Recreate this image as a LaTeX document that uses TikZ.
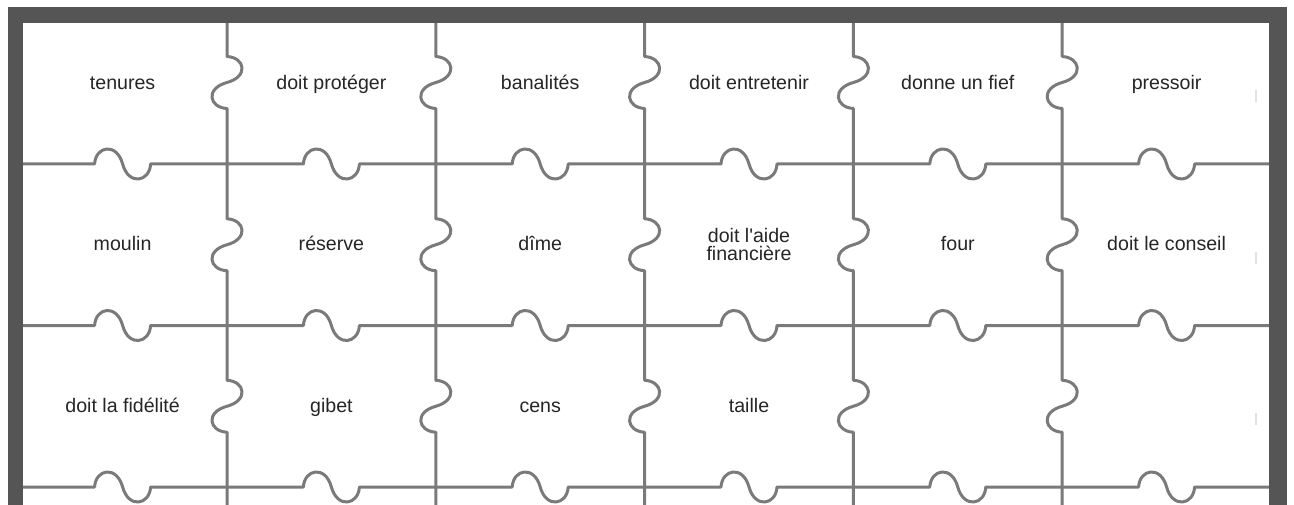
\documentclass[tikz,border=0pt]{standalone}
\usepackage{fontspec}
\newfontfamily\lsans{Liberation Sans}
\definecolor{framegray}{HTML}{555555}
\definecolor{piecegray}{HTML}{7A7A7A}
\definecolor{txtgray}{HTML}{262626}
\definecolor{faintgray}{HTML}{E2E2E2}
\begin{document}
\begin{tikzpicture}[x=1pt,y=-1pt,
  pz/.style={draw=piecegray,line width=3pt,line join=round,line cap=round},
  lbl/.style={text=txtgray,font=\lsans\fontsize{19.6}{18.8}\selectfont,inner sep=0pt,anchor=base,align=center},
  lbl2/.style={text=txtgray,font=\lsans\fontsize{19.6}{18.8}\selectfont,inner sep=0pt,anchor=center,align=center},
  faint/.style={draw=faintgray,line width=1.5pt}]
\useasboundingbox (0,0) rectangle (1294,505);
\fill[white] (0,0) rectangle (1294,505);
% horizontal piece edges
\foreach \Y in {164,325.5,487}{
  \draw[pz] (23,\Y)
    \foreach \c in {122.6,331.4,540.2,749,957.8,1166.6}{
      -- ({\c-28},\Y) .. controls ({\c-27},{\Y-18}) and ({\c-6},{\Y-22}) .. (\c,\Y)
      .. controls ({\c+6},{\Y+22}) and ({\c+27},{\Y+18}) .. ({\c+28},\Y)
    } -- (1269,\Y);
}
% vertical piece edges
\foreach \X in {227,435.8,644.6,853.4,1062.2}{
  \draw[pz] (\X,23)
    \foreach \c in {82.5,244.75,406.25}{
      -- (\X,{\c-26}) .. controls ({\X+18},{\c-25}) and ({\X+22},{\c-6}) .. (\X,\c)
      .. controls ({\X-22},{\c+6}) and ({\X-18},{\c+25}) .. (\X,{\c+26})
    } -- (\X,505);
}
% faint marks
\draw[faint] (1256,90) -- (1256,102);
\draw[faint] (1256,252) -- (1256,264);
\draw[faint] (1256,413) -- (1256,425);
% frame
\fill[framegray] (8,7) rectangle (1287,23);
\fill[framegray] (8,7) rectangle (23,505);
\fill[framegray] (1269,7) rectangle (1287,505);
% labels row 1
\node[lbl] (t11) at (122.6,89.5) {tenures};
\node[lbl] (t12) at (331.4,89.5) {doit protéger};
\node[lbl] (t13) at (540.2,89.5) {banalités};
\node[lbl] (t14) at (749,89.5) {doit entretenir};
\node[lbl] (t15) at (957.8,89.5) {donne un fief};
\node[lbl] (t16) at (1166.6,89.5) {pressoir};
% labels row 2
\node[lbl] (t21) at (122.6,251) {moulin};
\node[lbl] (t22) at (331.4,251) {réserve};
\node[lbl] (t23) at (540.2,251) {dîme};
\node[lbl2] (t24) at (749,244.5) {doit l'aide\\financière};
\node[lbl] (t25) at (957.8,251) {four};
\node[lbl] (t26) at (1166.6,251) {doit le conseil};
% labels row 3
\node[lbl] (t31) at (122.6,412.5) {doit la fidélité};
\node[lbl] (t32) at (331.4,412.5) {gibet};
\node[lbl] (t33) at (540.2,412.5) {cens};
\node[lbl] (t34) at (749,412.5) {taille};
\end{tikzpicture}
\end{document}
